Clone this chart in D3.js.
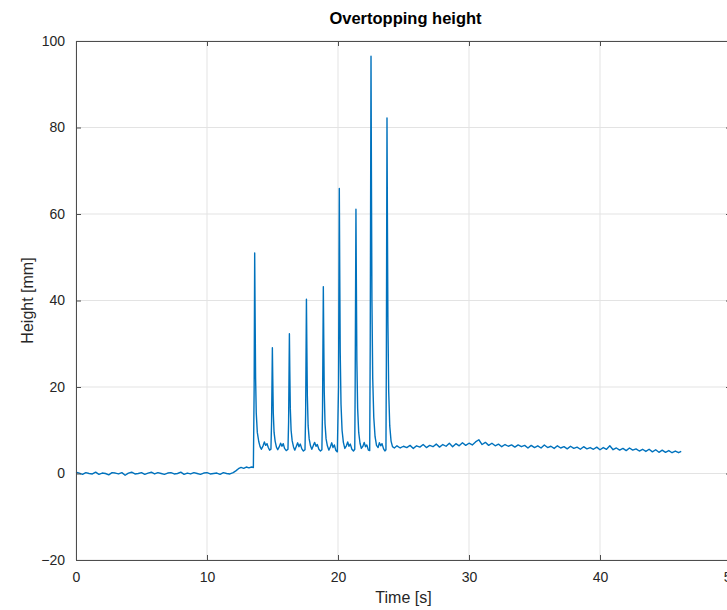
<!DOCTYPE html>
<html>
<head>
<meta charset="utf-8">
<script src="https://cdn.jsdelivr.net/npm/d3@7"></script>
<style>
  body { margin: 0; background: #fff; }
  svg { display: block; font-family: "Liberation Sans", Arial, sans-serif; }
</style>
</head>
<body>
<svg id="chart" width="727" height="610"></svg>
<script>
// x ticks / y ticks
var xTicks = [0, 10, 20, 30, 40, 50];
var yTicks = [-20, 0, 20, 40, 60, 80, 100];

// still water before the waves arrive [time s, height mm]
var baseline = [
  [0, 0.3], [0.25, 0.1], [0.5, -0.2], [0.75, 0.2], [1, 0.0], [1.25, -0.1], [1.5, 0.3], [1.75, -0.2],
  [2, 0.1], [2.25, 0.0], [2.5, -0.3], [2.75, 0.2], [3, 0.1], [3.25, -0.1], [3.5, 0.2], [3.75, -0.4],
  [4, 0.1], [4.25, 0.3], [4.5, -0.1], [4.75, 0.0], [5, 0.2], [5.25, -0.2], [5.5, 0.1], [5.75, 0.3],
  [6, -0.1], [6.25, 0.2], [6.5, 0.0], [6.75, -0.2], [7, 0.1], [7.25, 0.2], [7.5, -0.1], [7.75, 0.0],
  [8, 0.3], [8.25, -0.2], [8.5, 0.1], [8.75, -0.1], [9, 0.2], [9.25, 0.0], [9.5, -0.2], [9.75, 0.1],
  [10, 0.2], [10.25, -0.1], [10.5, 0.0], [10.75, 0.1], [11, -0.2], [11.25, 0.2], [11.5, 0.0], [11.75, -0.1],
  [12, 0.2], [12.2, 0.6], [12.4, 1.1], [12.6, 1.4], [12.8, 1.2], [13.0, 1.5], [13.2, 1.3], [13.4, 1.5], [13.54, 1.4]
];

// the wave train with nine overtopping peaks
var waveTrain = [
  [13.60, 20], [13.64, 51.0], [13.67, 38], [13.71, 22], [13.76, 14], [13.84, 9.5], [13.95, 7.4],
  [14.05, 6.2], [14.15, 5.6], [14.28, 6.4], [14.38, 7.3], [14.48, 6.5], [14.58, 6.9], [14.68, 6.0], [14.78, 5.4], [14.88, 5.6],
  [14.93, 12], [14.99, 29.1], [15.02, 22], [15.06, 14], [15.12, 9.5], [15.20, 7.5], [15.30, 6.1],
  [15.40, 5.5], [15.52, 6.2], [15.62, 7.0], [15.72, 6.3], [15.82, 6.9], [15.92, 5.8], [16.05, 5.3], [16.18, 5.6],
  [16.23, 12], [16.29, 32.3], [16.32, 24], [16.36, 15], [16.42, 10], [16.50, 7.6], [16.60, 6.2],
  [16.70, 5.4], [16.82, 6.3], [16.92, 7.1], [17.02, 6.2], [17.12, 6.8], [17.24, 5.7], [17.36, 5.2], [17.48, 5.5],
  [17.53, 14], [17.59, 40.3], [17.62, 30], [17.66, 18], [17.72, 11], [17.80, 8], [17.90, 6.4],
  [18.00, 5.6], [18.12, 6.5], [18.22, 7.2], [18.32, 6.3], [18.42, 6.7], [18.54, 5.6], [18.66, 5.2], [18.77, 5.5],
  [18.82, 15], [18.88, 43.2], [18.91, 32], [18.95, 19], [19.01, 11.5], [19.09, 8], [19.19, 6.4],
  [19.30, 5.4], [19.42, 6.2], [19.52, 7.1], [19.62, 6.0], [19.72, 6.6], [19.84, 5.3], [19.95, 5.0],
  [20.04, 20], [20.10, 65.9], [20.13, 48], [20.17, 28], [20.23, 16], [20.31, 10], [20.41, 7.2],
  [20.52, 5.8], [20.64, 6.4], [20.74, 7.3], [20.84, 6.3], [20.94, 6.8], [21.06, 5.6], [21.18, 5.2], [21.28, 5.6],
  [21.31, 20], [21.37, 61.1], [21.40, 45], [21.44, 26], [21.50, 15], [21.58, 9.5], [21.68, 7.0],
  [21.78, 5.8], [21.90, 6.3], [22.00, 7.2], [22.10, 6.2], [22.20, 6.6], [22.32, 5.4], [22.42, 5.3],
  [22.46, 30], [22.52, 96.5], [22.55, 70], [22.59, 40], [22.65, 22], [22.73, 13], [22.83, 8.5],
  [22.94, 6.5], [23.06, 6.0], [23.16, 7.1], [23.26, 6.4], [23.36, 6.9], [23.48, 5.7], [23.58, 5.2], [23.66, 5.5],
  [23.69, 25], [23.74, 82.2], [23.77, 60], [23.81, 35], [23.87, 19], [23.95, 11], [24.05, 7.5],
  [24.16, 6.2], [24.30, 5.9]
];

// slow drain-down after the last wave
var tail = [
  [24.5, 6.4], [24.75, 5.9], [25, 6.3], [25.25, 6.0], [25.5, 6.5], [25.75, 5.8], [26, 6.4], [26.25, 6.1],
  [26.5, 6.7], [26.75, 6.0], [27, 6.5], [27.25, 6.2], [27.5, 6.8], [27.75, 6.1], [28, 6.7], [28.25, 6.3],
  [28.5, 7.0], [28.75, 6.2], [29, 6.9], [29.25, 6.4], [29.5, 7.1], [29.75, 6.5], [30, 7.0], [30.25, 6.6],
  [30.5, 7.3], [30.75, 7.8], [31, 6.7], [31.25, 7.2], [31.5, 6.5], [31.75, 7.0], [32, 6.4], [32.25, 6.8],
  [32.5, 6.2], [32.75, 6.7], [33, 6.3], [33.25, 6.6], [33.5, 6.1], [33.75, 6.6], [34, 6.2], [34.25, 6.5],
  [34.5, 5.9], [34.75, 6.5], [35, 6.0], [35.25, 6.4], [35.5, 5.9], [35.75, 6.6], [36, 6.0], [36.25, 6.3],
  [36.5, 5.8], [36.75, 6.4], [37, 5.9], [37.25, 6.2], [37.5, 5.7], [37.75, 6.3], [38, 5.8], [38.25, 6.1],
  [38.5, 5.6], [38.75, 6.2], [39, 5.7], [39.25, 6.0], [39.5, 5.6], [39.75, 6.1], [40, 5.5], [40.25, 6.0],
  [40.5, 5.6], [40.75, 6.4], [41, 5.5], [41.25, 5.9], [41.5, 5.4], [41.75, 5.8], [42, 5.3], [42.25, 5.9],
  [42.5, 5.4], [42.75, 5.7], [43, 5.2], [43.25, 5.6], [43.5, 5.1], [43.75, 5.6], [44, 5.0], [44.25, 5.5],
  [44.5, 4.9], [44.75, 5.4], [45, 4.9], [45.25, 5.3], [45.5, 4.8], [45.75, 5.2], [46, 4.8], [46.2, 5.1]
];

var series = baseline.concat(waveTrain, tail);

var width = 727, height = 610;
var margin = {top: 41, left: 76, right: -4, bottom: 50};
var plotW = width - margin.left - margin.right;
var plotH = height - margin.top - margin.bottom;

var svg = d3.select("#chart");

var x = d3.scaleLinear().domain([0, 50]).range([margin.left, margin.left + plotW]);
var y = d3.scaleLinear().domain([-20, 100]).range([margin.top + plotH, margin.top]);

var axisColor = "#262626";

// GRID
var grid = svg.append("g").attr("class", "grid");
grid.selectAll(".gx").data(xTicks).enter().append("line")
  .attr("x1", function(d) { return x(d); }).attr("x2", function(d) { return x(d); })
  .attr("y1", y(-20)).attr("y2", y(100))
  .style("stroke", "#e3e3e3").style("stroke-width", 1);
grid.selectAll(".gy").data(yTicks).enter().append("line")
  .attr("x1", x(0)).attr("x2", x(50))
  .attr("y1", function(d) { return y(d); }).attr("y2", function(d) { return y(d); })
  .style("stroke", "#e3e3e3").style("stroke-width", 1);

// DATA LINE
var line = d3.line()
  .x(function(d) { return x(d[0]); })
  .y(function(d) { return y(d[1]); });

svg.append("path")
  .datum(series)
  .attr("d", line)
  .style("fill", "none")
  .style("stroke", "#0072BD")
  .style("stroke-width", 1.4)
  .style("stroke-linejoin", "round");

// AXES (matlab style, ticks pointing in, box on)
var fontSize = "14px";
var xAxis = svg.append("g")
  .attr("transform", "translate(0," + y(-20) + ")")
  .call(d3.axisBottom(x).tickValues(xTicks).tickSizeInner(-5).tickSizeOuter(0).tickPadding(12));
var xTop = svg.append("g")
  .attr("transform", "translate(0," + y(100) + ")")
  .call(d3.axisTop(x).tickValues(xTicks).tickSizeInner(-5).tickSizeOuter(0).tickFormat(""));
var yAxis = svg.append("g")
  .attr("transform", "translate(" + x(0) + ",0)")
  .call(d3.axisLeft(y).tickValues(yTicks).tickSizeInner(-5).tickSizeOuter(0).tickPadding(11));
var yRight = svg.append("g")
  .attr("transform", "translate(" + x(50) + ",0)")
  .call(d3.axisRight(y).tickValues(yTicks).tickSizeInner(-5).tickSizeOuter(0).tickFormat(""));

[xAxis, xTop, yAxis, yRight].forEach(function(g) {
  g.select(".domain").style("stroke", "#4d4d4d");
  g.selectAll(".tick line").style("stroke", "#4d4d4d");
  g.selectAll(".tick text").style("fill", axisColor).style("font-size", fontSize)
    .style("font-family", "'Liberation Sans', Arial, sans-serif");
});

// LABELS
svg.append("text")
  .attr("x", (x(0) + x(50)) / 2).attr("y", 603)
  .attr("text-anchor", "middle")
  .style("font-size", "16px").style("fill", axisColor)
  .text("Time [s]");

svg.append("text")
  .attr("transform", "translate(33," + y(40) + ") rotate(-90)")
  .attr("text-anchor", "middle")
  .style("font-size", "16px").style("fill", axisColor)
  .text("Height [mm]");

svg.append("text")
  .attr("x", (x(0) + x(50)) / 2 + 2).attr("y", 24)
  .attr("text-anchor", "middle")
  .style("font-size", "16.5px").style("font-weight", "bold").style("fill", "#000")
  .text("Overtopping height");
</script>
</body>
</html>
